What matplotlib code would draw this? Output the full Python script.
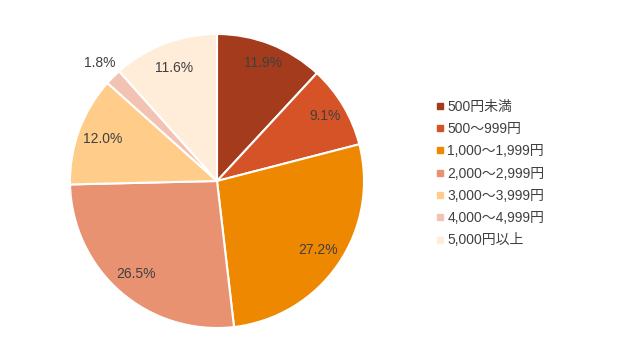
import matplotlib
matplotlib.use("Agg")
import matplotlib.pyplot as plt
from matplotlib.lines import Line2D
import numpy as np

plt.rcParams['font.family'] = ['Liberation Sans', 'Noto Sans CJK JP', 'DejaVu Sans']

categories = ["500円未満", "500～999円", "1,000～1,999円", "2,000～2,999円",
              "3,000～3,999円", "4,000～4,999円", "5,000円以上"]
values = [11.9, 9.1, 27.2, 26.5, 12.0, 1.8, 11.6]
colors = ["#A33B1C", "#D65328", "#EE8800", "#E89272", "#FFCC8A", "#F2C2B2", "#FFECD9"]
label_dist = [0.86, 0.86, 0.83, 0.84, 0.83, 1.13, 0.82]

fig = plt.figure(figsize=(6.3, 3.52), dpi=100)
ax = fig.add_axes([(217 - 147) / 630, (352 - 181 - 147) / 352, 294 / 630, 294 / 352])
wedges, _ = ax.pie(values, colors=colors, startangle=90, counterclock=False,
                   wedgeprops=dict(edgecolor="white", linewidth=1.5))
for w, v, d in zip(wedges, values, label_dist):
    ang = np.deg2rad((w.theta1 + w.theta2) / 2)
    ax.text(d * np.cos(ang), d * np.sin(ang), f"{v:.1f}%", ha="center", va="center",
            fontsize=10, color="#404040")
ax.set_xlim(-1.0, 1.0)
ax.set_ylim(-1.0, 1.0)
ax.set_aspect("equal")
ax.axis("off")

handles = [Line2D([0], [0], marker="s", linestyle="", markersize=5,
                  markerfacecolor=c, markeredgecolor=c) for c in colors]
fig.legend(handles, categories, loc="center left", bbox_to_anchor=(421 / 630, 1 - 173.5 / 352),
           frameon=False, fontsize=10, labelcolor="#404040", handletextpad=0.0,
           handlelength=1.0, labelspacing=0.6)
fig.savefig("out.png", dpi=100)
